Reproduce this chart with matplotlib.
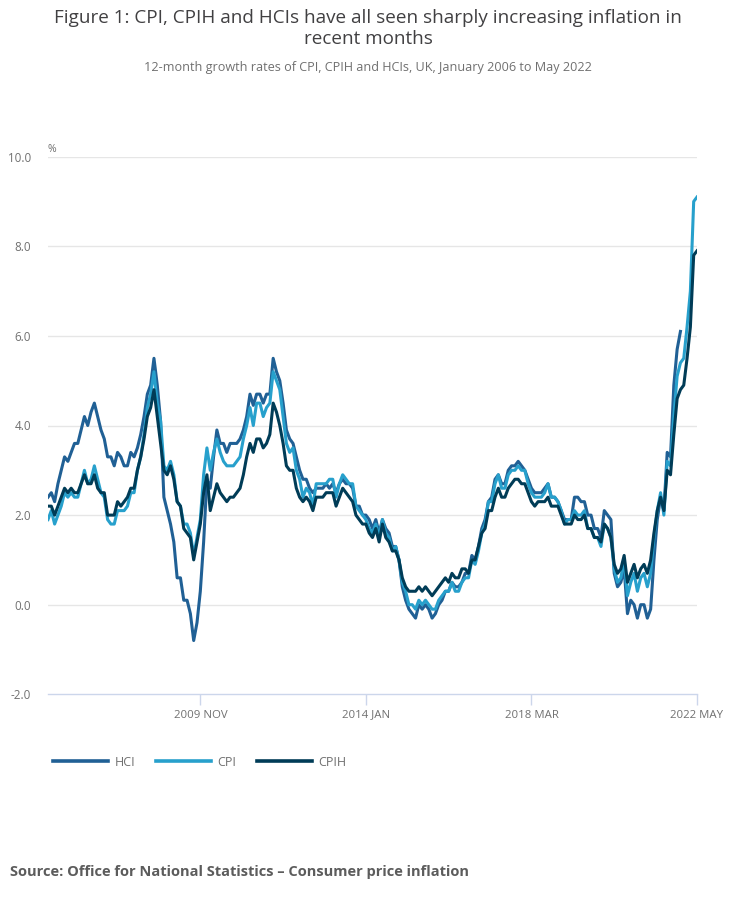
import numpy as np
import matplotlib
matplotlib.use('Agg')
from matplotlib import pyplot as plt
from matplotlib.lines import Line2D

plt.rcParams['font.family'] = ['Open Sans', 'DejaVu Sans']

# Monthly 12-month growth rates, Jan 2006 .. May 2022 (HCI ends Dec 2021)
hci = [
    2.4, 2.5, 2.3, 2.7, 3.0, 3.3, 3.2, 3.4, 3.6, 3.6, 3.9, 4.2,      # 2006
    4.0, 4.3, 4.5, 4.2, 3.9, 3.7, 3.3, 3.3, 3.1, 3.4, 3.3, 3.1,      # 2007
    3.1, 3.4, 3.3, 3.5, 3.8, 4.2, 4.7, 4.9, 5.5, 4.9, 4.1, 2.4,      # 2008
    2.1, 1.8, 1.4, 0.6, 0.6, 0.1, 0.1, -0.2, -0.8, -0.4, 0.3, 1.4,   # 2009
    2.8, 2.6, 3.3, 3.9, 3.6, 3.6, 3.4, 3.6, 3.6, 3.6, 3.7, 3.9,      # 2010
    4.2, 4.7, 4.45, 4.7, 4.7, 4.5, 4.7, 4.7, 5.5, 5.2, 5.0, 4.5,     # 2011
    3.9, 3.7, 3.6, 3.3, 3.0, 2.8, 2.8, 2.6, 2.5, 2.6, 2.6, 2.6,      # 2012
    2.7, 2.6, 2.7, 2.5, 2.7, 2.8, 2.7, 2.7, 2.6, 2.2, 2.2, 2.0,      # 2013
    2.0, 1.9, 1.7, 1.9, 1.6, 1.9, 1.7, 1.6, 1.3, 1.3, 1.0, 0.4,      # 2014
    0.1, -0.1, -0.2, -0.3, 0.0, -0.1, 0.0, -0.1, -0.3, -0.2, 0.0, 0.1,  # 2015
    0.3, 0.3, 0.5, 0.4, 0.4, 0.5, 0.7, 0.7, 1.1, 1.0, 1.3, 1.7,      # 2016
    1.9, 2.3, 2.4, 2.8, 2.9, 2.7, 2.7, 3.0, 3.1, 3.1, 3.2, 3.1,      # 2017
    3.0, 2.8, 2.6, 2.5, 2.5, 2.5, 2.6, 2.7, 2.4, 2.4, 2.3, 2.1,      # 2018
    1.9, 1.9, 1.9, 2.4, 2.4, 2.3, 2.3, 2.0, 2.0, 1.7, 1.7, 1.5,      # 2019
    2.1, 2.0, 1.9, 0.7, 0.4, 0.5, 0.8, -0.2, 0.1, 0.0, -0.3, 0.0,    # 2020
    0.0, -0.3, -0.1, 1.0, 1.9, 2.4, 2.1, 3.4, 3.3, 4.9, 5.7, 6.1,    # 2021
]

cpi = [
    1.9, 2.1, 1.8, 2.0, 2.2, 2.5, 2.4, 2.5, 2.4, 2.4, 2.7, 3.0,
    2.7, 2.8, 3.1, 2.8, 2.5, 2.4, 1.9, 1.8, 1.8, 2.1, 2.1, 2.1,
    2.2, 2.5, 2.5, 3.0, 3.3, 3.8, 4.4, 4.7, 5.2, 4.5, 4.1, 3.1,
    3.0, 3.2, 2.9, 2.3, 2.2, 1.8, 1.8, 1.6, 1.1, 1.5, 1.9, 2.9,
    3.5, 3.0, 3.4, 3.7, 3.4, 3.2, 3.1, 3.1, 3.1, 3.2, 3.3, 3.7,
    4.0, 4.4, 4.0, 4.5, 4.5, 4.2, 4.4, 4.5, 5.2, 5.0, 4.8, 4.2,
    3.6, 3.4, 3.5, 3.0, 2.8, 2.4, 2.6, 2.5, 2.2, 2.7, 2.7, 2.7,
    2.7, 2.8, 2.8, 2.4, 2.7, 2.9, 2.8, 2.7, 2.7, 2.2, 2.1, 2.0,
    1.9, 1.7, 1.6, 1.8, 1.5, 1.9, 1.6, 1.5, 1.2, 1.3, 1.0, 0.5,
    0.3, 0.0, 0.0, -0.1, 0.1, 0.0, 0.1, 0.0, -0.1, -0.1, 0.1, 0.2,
    0.3, 0.3, 0.5, 0.3, 0.3, 0.5, 0.6, 0.6, 1.0, 0.9, 1.2, 1.6,
    1.8, 2.3, 2.3, 2.7, 2.9, 2.6, 2.6, 2.9, 3.0, 3.0, 3.1, 3.0,
    3.0, 2.7, 2.5, 2.4, 2.4, 2.4, 2.5, 2.7, 2.4, 2.4, 2.3, 2.1,
    1.8, 1.9, 1.9, 2.1, 2.0, 2.0, 2.1, 1.7, 1.7, 1.5, 1.5, 1.3,
    1.8, 1.7, 1.5, 0.8, 0.5, 0.6, 1.0, 0.2, 0.5, 0.7, 0.3, 0.6,
    0.7, 0.4, 0.7, 1.5, 2.1, 2.5, 2.0, 3.2, 3.1, 4.2, 5.1, 5.4,
    5.5, 6.2, 7.0, 9.0, 9.1,
]

cpih = [
    2.2, 2.2, 2.0, 2.2, 2.4, 2.6, 2.5, 2.6, 2.5, 2.5, 2.7, 2.9,
    2.7, 2.7, 2.9, 2.6, 2.5, 2.5, 2.0, 2.0, 2.0, 2.3, 2.2, 2.3,
    2.4, 2.6, 2.6, 3.0, 3.3, 3.7, 4.2, 4.4, 4.8, 4.2, 3.6, 3.0,
    2.9, 3.1, 2.8, 2.3, 2.2, 1.7, 1.6, 1.5, 1.0, 1.4, 1.8, 2.5,
    2.9, 2.1, 2.4, 2.7, 2.5, 2.4, 2.3, 2.4, 2.4, 2.5, 2.6, 2.9,
    3.3, 3.6, 3.4, 3.7, 3.7, 3.5, 3.6, 3.8, 4.5, 4.3, 4.0, 3.6,
    3.1, 3.0, 3.0, 2.6, 2.4, 2.3, 2.4, 2.3, 2.1, 2.4, 2.4, 2.4,
    2.5, 2.5, 2.5, 2.2, 2.4, 2.6, 2.5, 2.4, 2.3, 2.0, 1.9, 1.8,
    1.8, 1.6, 1.5, 1.7, 1.4, 1.8, 1.5, 1.4, 1.2, 1.2, 1.0, 0.6,
    0.4, 0.3, 0.3, 0.3, 0.4, 0.3, 0.4, 0.3, 0.2, 0.3, 0.4, 0.5,
    0.6, 0.5, 0.7, 0.6, 0.6, 0.8, 0.8, 0.7, 1.0, 1.0, 1.3, 1.6,
    1.7, 2.1, 2.1, 2.4, 2.6, 2.4, 2.4, 2.6, 2.7, 2.8, 2.8, 2.7,
    2.7, 2.5, 2.3, 2.2, 2.3, 2.3, 2.3, 2.4, 2.2, 2.2, 2.2, 2.0,
    1.8, 1.8, 1.8, 2.0, 1.9, 1.9, 2.0, 1.7, 1.7, 1.5, 1.5, 1.4,
    1.8, 1.7, 1.5, 0.9, 0.7, 0.8, 1.1, 0.5, 0.7, 0.9, 0.6, 0.8,
    0.9, 0.7, 1.0, 1.6, 2.1, 2.4, 2.1, 3.0, 2.9, 3.8, 4.6, 4.8,
    4.9, 5.5, 6.2, 7.8, 7.9,
]

tick_months = [46, 96, 146, 196]   # months since Jan 2006
tick_labels = ['2009 NOV', '2014 JAN', '2018 MAR', '2022 MAY']
y_ticks = [-2, 0, 2, 4, 6, 8, 10]

col_hci = '#206095'
col_cpi = '#27a0cc'
col_cpih = '#003c57'
grey = '#707070'

W, H = 736, 901
fig = plt.figure(figsize=(W / 100, H / 100), dpi=100)
ax = fig.add_axes([48 / W, 1 - 694.3 / H, 649 / W, (694.3 - 156.7) / H])

x_hci = np.arange(len(hci))
x_all = np.arange(len(cpi))
ax.plot(x_hci, hci, color=col_hci, lw=2.2, solid_joinstyle='round', zorder=3)
ax.plot(x_all, cpi, color=col_cpi, lw=2.2, solid_joinstyle='round', zorder=4)
ax.plot(x_all, cpih, color=col_cpih, lw=2.2, solid_joinstyle='round', zorder=5)

ax.set_xlim(0, len(cpi) - 1)
ax.set_ylim(-2, 10)
ax.set_yticks(y_ticks)
ax.set_yticklabels([f'{v:.1f}' for v in y_ticks])
ax.set_xticks(tick_months)
ax.set_xticklabels(tick_labels)

for v in y_ticks[1:]:
    ax.axhline(v, color='#e6e6e6', lw=1.0, zorder=1)

for s in ['top', 'right', 'left']:
    ax.spines[s].set_visible(False)
ax.spines['bottom'].set_color('#ccd6eb')
ax.spines['bottom'].set_linewidth(1.0)
ax.tick_params(axis='x', length=8, width=1.0, color='#ccd6eb', labelcolor=grey,
               labelsize=8.2, pad=3)
ax.tick_params(axis='y', length=0, labelcolor=grey, labelsize=8.4, pad=12)

fig.text(48 / W, 1 - 150 / H, '%', color=grey, fontsize=7.5, ha='left', va='center')

fig.text(0.5, 1 - 9 / H,
         'Figure 1: CPI, CPIH and HCIs have all seen sharply increasing inflation in\nrecent months',
         ha='center', va='top', fontsize=13.6, color='#414042', linespacing=1.22)
fig.text(0.5, 1 - 68 / H,
         '12-month growth rates of CPI, CPIH and HCIs, UK, January 2006 to May 2022',
         ha='center', va='center', fontsize=9.1, color=grey)

handles = [Line2D([], [], color=c, lw=2.6) for c in (col_hci, col_cpi, col_cpih)]
leg = fig.legend(handles, ['HCI', 'CPI', 'CPIH'], loc='center left',
                 bbox_to_anchor=(42 / W, 1 - 762 / H), ncol=3, frameon=False,
                 fontsize=9.0, handlelength=4.4, handletextpad=0.55, columnspacing=1.6,
                 labelcolor=grey)

fig.text(10 / W, 1 - 872 / H, 'Source: Office for National Statistics \u2013 Consumer price inflation',
         ha='left', va='center', fontsize=10.5, fontweight='bold', color='#5c5c5c')

fig.savefig('out.png', dpi=100)
